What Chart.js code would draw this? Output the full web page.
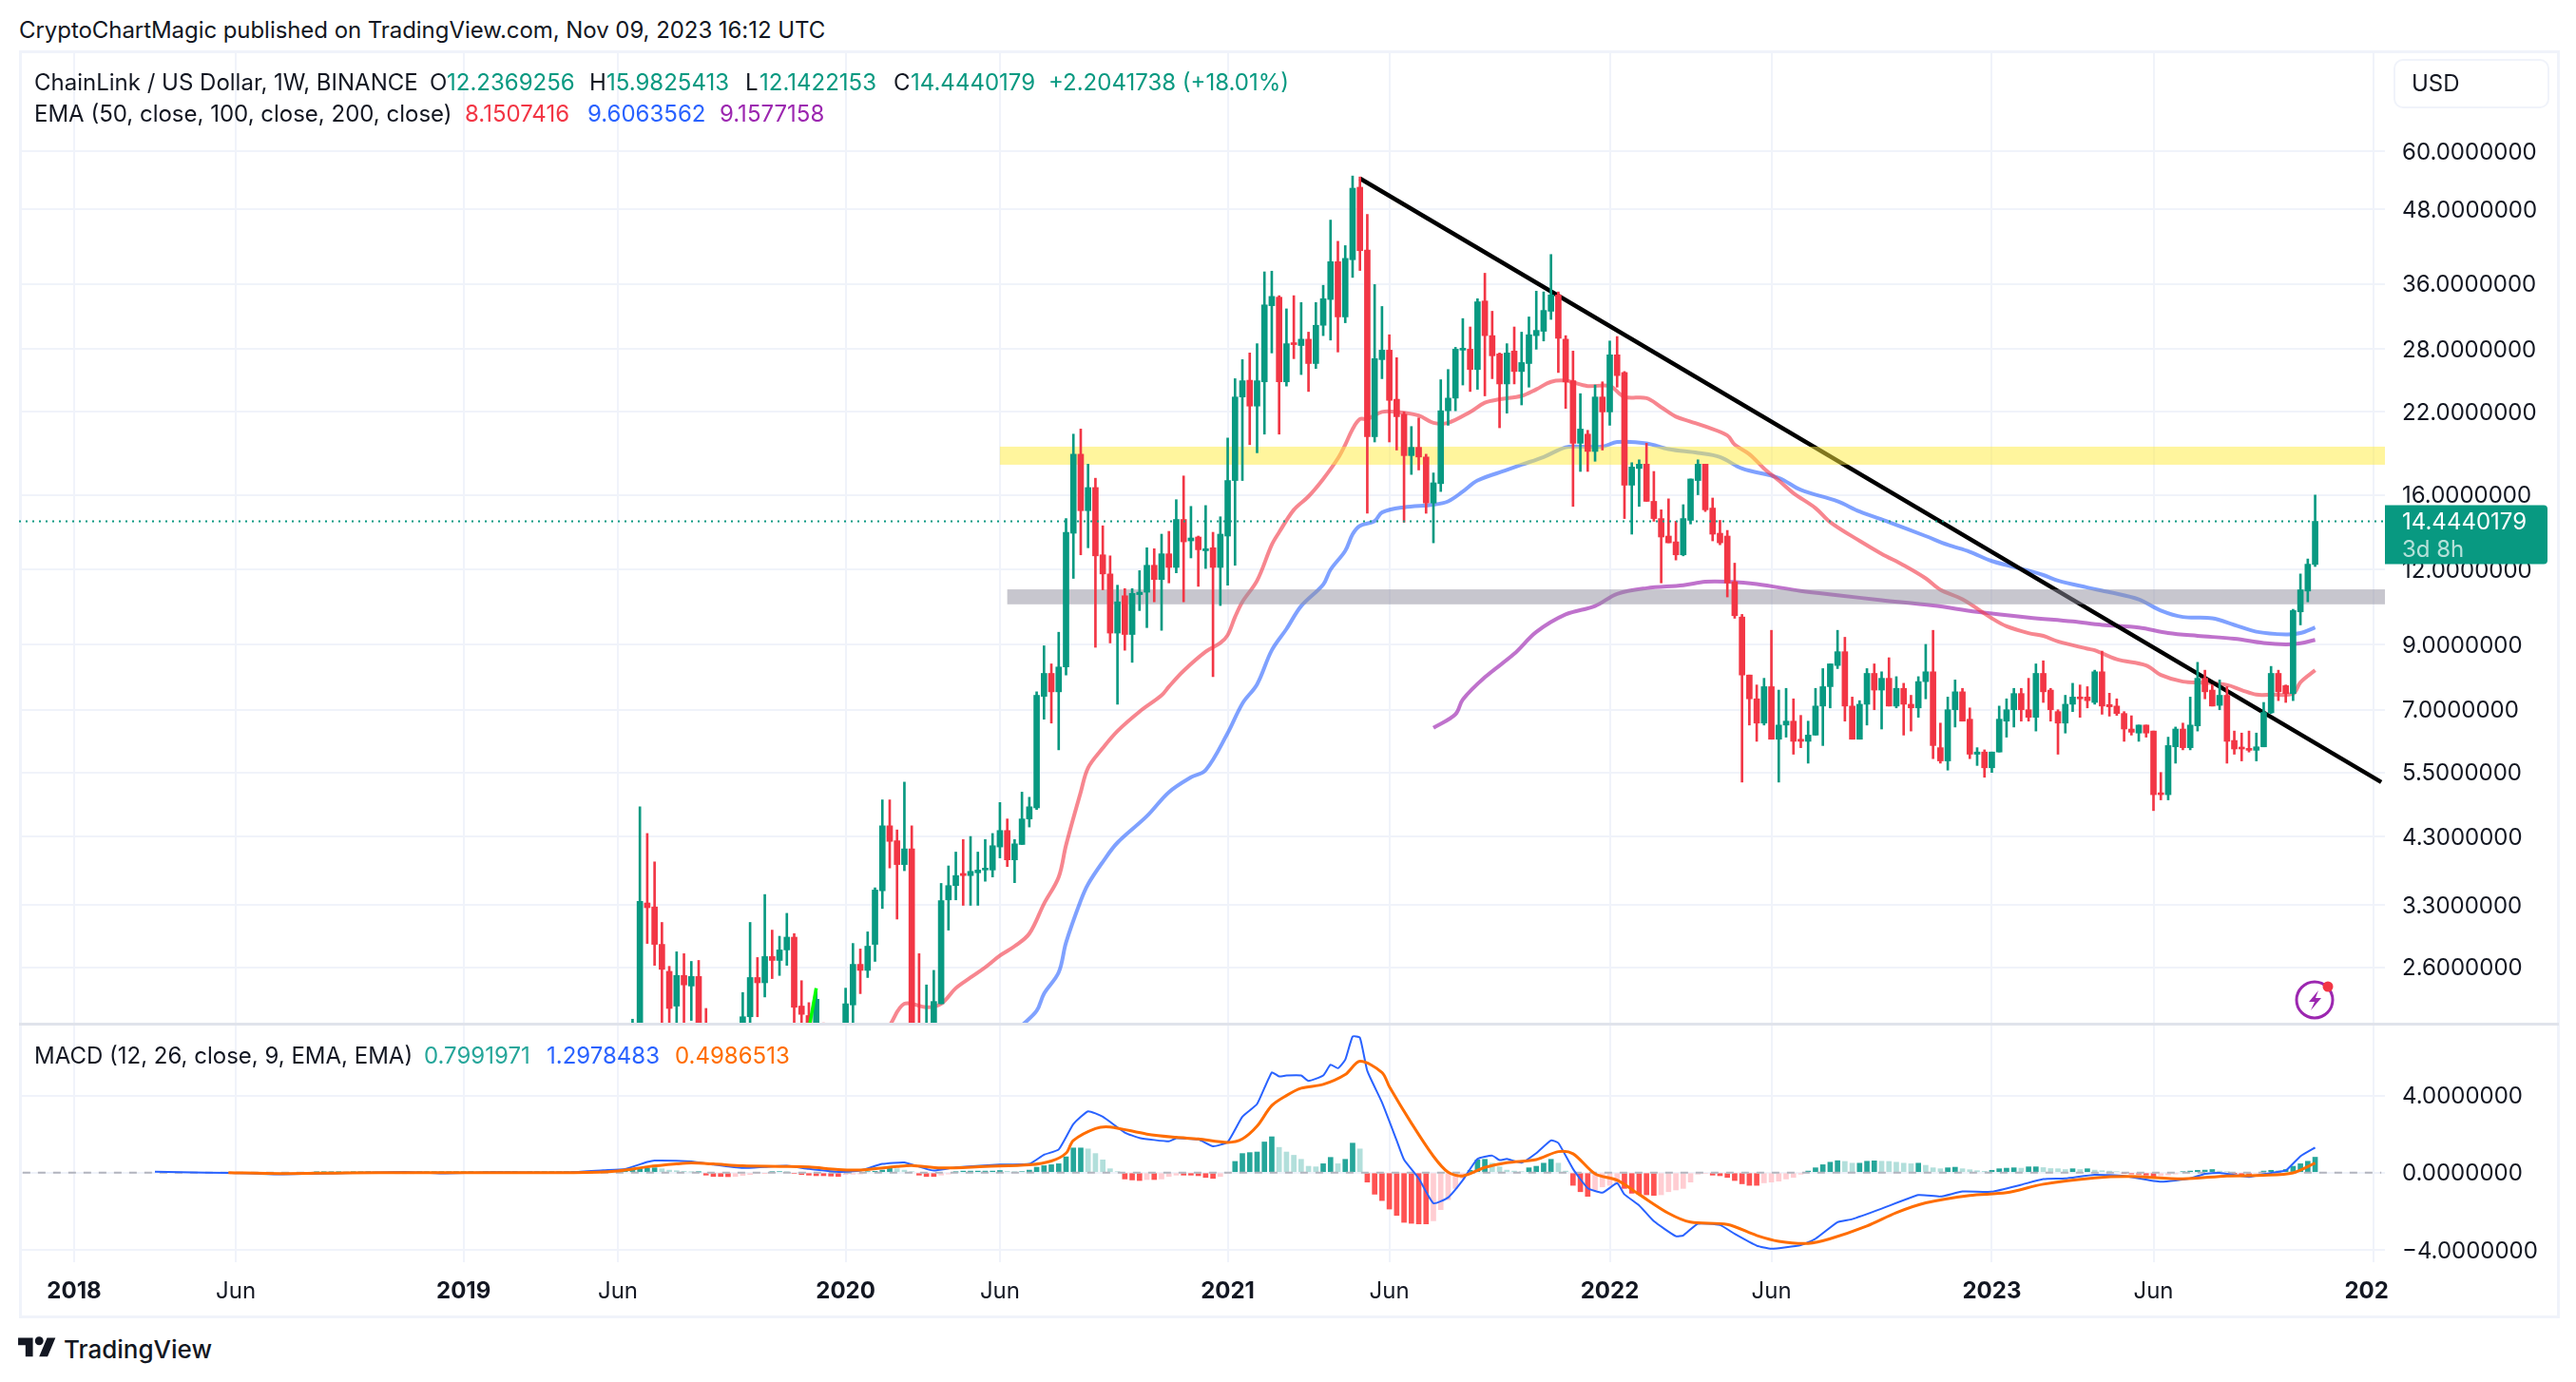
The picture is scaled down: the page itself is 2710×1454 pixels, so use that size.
<!DOCTYPE html>
<html>
<head>
<meta charset="utf-8">
<title>LINKUSD</title>
<script src="https://cdn.jsdelivr.net/npm/chart.js@4"></script>
<style>
body { margin:0; background:#fff; font-family:Inter,sans-serif; color:#131722; width:2710px; height:1454px; overflow:hidden; position:relative; }
canvas { position:absolute; }
#box { position:absolute; left:20px; top:53px; width:2667px; height:1328px; border:3px solid #f0f3fa; box-sizing:content-box; }
#sep { position:absolute; left:20px; top:1076px; width:2672px; height:3px; background:#e0e3eb; }
.t { position:absolute; font-size:24px; white-space:nowrap; line-height:30px; }
#usd { position:absolute; left:2518px; top:62px; width:164px; height:52px; border:2px solid #f0f3fa; border-radius:10px; box-sizing:border-box; font-size:24px; line-height:48px; padding-left:17px; }
</style>
</head>
<body>
<div id="box"></div>
<canvas id="priceChart" style="left:20px;top:55px"></canvas>
<canvas id="macdChart" style="left:20px;top:1078px"></canvas>
<div id="sep"></div>
<div class="t" style="left:20px;top:17px;letter-spacing:-0.06px">CryptoChartMagic published on TradingView.com, Nov 09, 2023 16:12 UTC</div>
<div class="t" style="left:36px;top:72px">ChainLink / US Dollar, 1W, BINANCE</div>
<div class="t" style="left:452px;top:72px">O</div>
<div class="t" style="left:470px;top:72px;color:#089981">12.2369256</div>
<div class="t" style="left:620px;top:72px">H</div>
<div class="t" style="left:638px;top:72px;color:#089981">15.9825413</div>
<div class="t" style="left:784px;top:72px">L</div>
<div class="t" style="left:799px;top:72px;color:#089981">12.1422153</div>
<div class="t" style="left:940px;top:72px">C</div>
<div class="t" style="left:958px;top:72px;color:#089981">14.4440179</div>
<div class="t" style="left:1103px;top:72px;color:#089981">+2.2041738 (+18.01%)</div>
<div class="t" style="left:36px;top:105px">EMA (50, close, 100, close, 200, close)</div>
<div class="t" style="left:489px;top:105px;color:#f23645">8.1507416</div>
<div class="t" style="left:618px;top:105px;color:#2962ff">9.6063562</div>
<div class="t" style="left:757px;top:105px;color:#9c27b0">9.1577158</div>
<div class="t" style="left:36px;top:1096px">MACD (12, 26, close, 9, EMA, EMA)</div>
<div class="t" style="left:446px;top:1096px;color:#26a69a">0.7991971</div>
<div class="t" style="left:575px;top:1096px;color:#2962ff">1.2978483</div>
<div class="t" style="left:710px;top:1096px;color:#ff6d00">0.4986513</div>
<div id="usd">USD</div>
<svg style="position:absolute;left:2412px;top:1028px" width="48" height="48" viewBox="0 0 48 48">
<circle cx="23" cy="24" r="19" fill="none" stroke="#9c27b0" stroke-width="3"/>
<path d="M27 14 L17 26 H23 L19 35 L30 22 H24 Z" fill="#9c27b0"/>
<circle cx="37" cy="10" r="5.5" fill="#f23645"/>
</svg>
<svg style="position:absolute;left:19px;top:1403px" width="40" height="31" viewBox="0 0 36 28">
<path d="M14 22H7V11H0V4h14v18zM28 22h-8l7.5-18h8L28 22z" fill="#131722"/><circle cx="20" cy="7" r="4" fill="#131722"/>
</svg>
<div class="t" style="left:67px;top:1405px;font-size:26px;font-weight:500">TradingView</div>

<script>
// weekly bars, first week on the axis is 2017-11-13
const weekCount = 322
const firstCandle = 83
const lastPrice = 14.4440179
const priceTicks = [60,48,36,28,22,16,12,9,7,5.5,4.3,3.3,2.6]
const macdTicks = [4,0,-4]
// week index of each label on the time axis, 2024 is cut off by the price scale
const timeWeeks = [7,29,60,81,112,133,164,186,216,238,268,290,320]
const timeLabels = ['2018','Jun','2019','Jun','2020','Jun','2021','Jun','2022','Jun','2023','Jun','202']
const yearLabels = ['2018','2019','2020','2021','2022','2023','202']

// ten weeks per line, from week 83 to 312; null = hidden under the pane
const opens = [
2.0,1.9,3.33,3.28,2.84,2.56,2.24,2.52,2.42,2.51,
2.0,null,null,null,null,2.0,2.15,2.5,2.45,2.71,
2.67,2.78,2.92,2.24,2.16,2.05,2.0,null,null,2.05,
2.25,2.63,2.57,2.84,3.49,4.48,4.23,3.86,4.1,2.04,
1.95,2.03,2.26,3.37,3.56,3.73,3.7,3.74,3.78,3.78,
4.13,4.4,3.93,4.17,4.6,4.8,7.37,8.05,7.5,8.25,
13.8,18.7,15.05,16.45,12.7,11.8,9.4,10.85,9.35,10.9,
11.0,12.2,11.55,12.75,12.1,14.55,13.4,13.6,12.9,13.05,
12.1,13.65,16.9,23.3,24.85,22.5,24.7,33.1,34.2,24.7,
28.6,28.4,29.1,26.5,30.7,33.9,39.2,31.7,39.5,52.2,
41,20,26.9,27.9,23.1,21.8,18.6,19.2,18.5,15.5,
16.7,22.1,23.2,27.9,28,25.9,33.7,29.5,27.5,24.5,
27.8,25.7,26.5,29.5,30,32.4,34.5,29.1,24.8,19.5,
20.2,18.9,23.3,22,27.4,25.6,16.6,17.7,18.0,15.6,
14.6,13.65,13.35,12.7,14.5,16.9,18,15.2,13.8,13.65,
11.45,10,8,7.3,6.65,7.65,6.25,6.6,6.7,6.25,
6.2,6.35,7.1,7.65,8.3,8.75,7.1,6.25,7.15,8.05,
7.55,7.9,7.1,7.6,7.15,7.05,7.8,8.1,6.05,5.75,
7,7.5,6.75,5.9,5.95,5.6,5.95,6.7,7,7.45,
7,6.8,8.05,7.55,6.95,6.65,7.15,7.35,7.35,7.2,
8.1,7.14,7.1,6.9,6.5,6.4,6.6,6.45,5.08,5.05,
6.07,6.5,6.05,6.58,7.9,7.55,7.12,7.4,6.22,6.03,
6.03,5.99,6.07,6.92,8.05,7.68,7.45,10.2,11.05,12.2369256
]
const highs = [
2.13,4.82,4.35,3.9,3.09,2.61,2.76,2.74,2.66,2.67,
2.22,null,null,null,null,2.36,3.09,2.7,3.44,3.0,
2.93,3.2,2.96,2.47,2.27,2.38,2.1,null,null,2.4,
2.85,2.79,2.98,3.53,4.95,4.95,4.41,5.3,4.48,2.74,
2.43,2.57,3.59,3.84,4.05,4.25,4.3,4.05,4.25,4.35,
4.9,4.6,4.25,5.1,5.0,7.5,8.95,8.35,9.43,14.6,
20.2,20.6,18,17.05,14.2,12.65,11.3,11.15,11.15,11.95,
13.05,13,13.75,13.9,15.7,17.2,15.3,13.65,15.35,13.85,
14.7,19.9,25,26.9,27.6,28.6,37.7,37.8,34.4,32.7,
34.4,33.5,29.9,33.5,35.8,46,42.4,41.7,54.5,54.3,
47,35.9,33,29.6,27.1,22,20.8,21.5,18.7,17.4,
24.9,25.9,28.2,31.5,30.5,34,37.5,32.4,27.6,28.6,
30.5,29.9,31.7,35,34.9,40.3,34.9,29.5,27.8,23.6,
20.5,24.4,24.7,28.9,29.4,25.7,18.1,18.3,19.5,17.5,
15.1,15.75,14.45,15.4,17,18.3,18,15.8,14.5,13.95,
12.3,10.1,8,7.7,7.9,9.5,7.55,7.6,7.3,6.85,
6.7,7.6,8.2,8.35,9.5,9.25,7.35,7.25,8.2,8.35,
8.1,8.55,7.95,7.75,7.4,7.95,9,9.5,6.65,7.35,
7.85,7.6,7.05,6.05,6,5.95,7.1,7.3,7.6,7.6,
7.9,8.35,8.45,7.6,7,7.4,7.75,7.7,7.65,8.15,
8.77,7.46,7.3,6.95,6.84,6.6,6.6,6.45,5.5,6.3,
6.55,6.65,7.35,8.4,8.15,7.7,7.85,7.65,6.45,6.4,
6.45,6.4,7.2,8.27,8.15,7.7,10.3,11.8,12.5,15.9825413
]
const lows = [
1.95,1.85,2.85,2.62,2.0,1.9,2.0,2.0,2.12,1.9,
1.8,null,null,null,null,1.9,2.1,2.15,2.32,2.49,
2.52,2.62,2.1,2.1,1.95,1.95,1.9,null,null,1.95,
2.1,2.35,2.5,2.66,3.26,3.81,3.13,3.77,1.8,1.85,
1.9,1.95,2.26,3.0,3.37,3.3,3.3,3.3,3.62,3.68,
3.96,3.83,3.6,4.17,4.46,4.77,6.75,6.65,6.0,8.0,
11.6,12.7,13.05,8.9,11.1,9.05,7.15,8.8,8.4,10.25,
9.6,10.6,9.5,11.4,11.85,10.6,12.55,11.25,12.05,7.95,
10.45,11.3,12.2,16.9,19.4,18.8,20.2,27.6,20.2,24.3,
27,25.4,23.8,26,29.5,29,27.7,31,36.9,37.9,
14.9,19.6,25,19.6,19,14.4,17.3,17.6,14.9,13.3,
16.2,20.9,22.1,24.4,23.8,24,23.4,25,20.7,21.9,
24.5,22.6,24.2,28,28.9,31.4,25.6,22.3,15.3,17.5,
17.5,18.2,19,20.9,24.2,14.6,13.75,15.3,15.6,14.45,
11.4,13.3,12.45,12.65,14.3,16,15,13.4,13.2,10.8,
9.95,5.3,6.6,6.2,6.6,6.25,5.3,6.3,5.9,6.05,
5.7,6.35,6.1,7.05,8.2,6.7,6.25,6.25,6.6,7,
6.5,7.1,7.05,6.35,6.45,6.8,7.3,5.8,5.7,5.55,
6.55,6.7,5.8,5.65,5.4,5.5,5.95,6.3,6.55,6.7,
6.7,6.45,7.2,6.7,5.9,6.4,6.95,6.8,7.05,7.15,
6.88,6.83,6.85,6.2,6.35,6.2,6.3,4.75,4.95,4.95,
5.7,6,6,6.45,7.3,7.1,7,5.7,5.9,5.75,
5.95,5.75,6.07,6.9,7.25,7.2,7.25,9.7,10.6,12.1422153
]
const closes = [
2.08,3.35,3.27,2.84,2.58,2.22,2.52,2.43,2.51,2.0,
1.9,null,null,null,null,2.15,2.5,2.45,2.71,2.67,
2.78,2.92,2.23,2.17,2.05,2.3,1.95,null,null,2.26,
2.63,2.57,2.82,3.5,4.48,4.22,3.86,4.1,2.0,1.95,
2.05,2.28,3.36,3.56,3.7,3.7,3.76,3.78,3.8,4.15,
4.4,3.93,4.18,4.6,4.82,7.4,8.05,7.5,8.25,13.85,
18.7,15.05,16.45,12.65,11.8,9.4,10.6,9.35,10.95,11.0,
12.2,11.55,12.75,12.1,14.55,13.35,13.55,12.95,13.0,12.1,
13.75,16.9,23.3,24.8,22.5,24.8,33.2,34.3,24.7,28.6,
28.5,29.1,26.5,30.7,34,39.2,31.7,39.7,52,40.9,
20,27,27.9,23,21.6,18.6,19.2,18.5,15.5,16.75,
22.1,23.2,28,28,25.9,33.6,29.5,27.3,24.5,27.6,
25.7,26.6,29.6,30.1,32.5,34.5,29.2,24.7,19.5,20.6,
18.9,23.3,22,27.4,25.3,16.6,17.8,18.0,15.6,14.6,
13.6,13.3,12.7,14.6,17,18,15.1,13.75,13.3,11.4,
10.05,8,7.3,6.65,7.65,6.25,6.6,6.7,6.2,6.2,
6.35,7.1,7.65,8.35,8.75,7.1,6.25,7.15,8.05,7.55,
7.9,7.1,7.6,7.15,7.05,7.8,8.1,6.1,5.75,7,
7.5,6.7,5.9,5.95,5.6,5.95,6.75,7,7.45,7,
6.8,8.05,7.5,7,6.65,7.15,7.35,7.3,7.25,8.1,
7.1,7.08,6.9,6.5,6.42,6.6,6.4,5.05,5.05,6.1,
6.5,6.05,6.6,7.9,7.5,7.1,7.4,6.2,6.02,6.02,
5.99,6.07,6.93,8.05,7.5,7.45,10.25,11.1,12.25,14.4440179
]

// sampled EMA readings: week index, then value
const ema50Weeks = [118,120,123,125,127,129,131,133,135,137,139,141,142,144,145,147,149,152,155,156,158,161,163,164,165,166,168,170,171,173,175,177,179,180,181,182,183,185,187,190,192,194,197,199,201,204,206,208,210,213,216,218,221,223,225,227,229,232,233,235,237,239,241,244,246,250,253,256,259,261,264,268,270,273,275,277,281,282,285,289,291,294,297,300,302,304,306,309,310,312]
const ema50 = [2.08,2.26,2.23,2.26,2.4,2.5,2.6,2.72,2.82,2.96,3.32,3.68,4.16,5.1,5.6,6.04,6.45,6.95,7.4,7.65,8.13,8.75,9.05,9.33,10,10.6,11.5,13.2,13.85,15.1,15.9,17,18.4,19.4,20.6,21.4,21.4,22,22,21.7,21.1,21.1,22,22.8,23.1,23.4,24,24.7,24.8,24.3,24.3,23.3,23.2,22.4,21.6,21.2,20.8,20.1,19.4,18.7,17.7,16.9,16.1,15.2,14.4,13.4,12.75,12.2,11.6,11.1,10.7,9.95,9.65,9.4,9.3,9.1,8.85,8.8,8.5,8.3,8,7.8,7.77,7.7,7.55,7.42,7.42,7.45,7.78,8.1507416]
const ema100Weeks = [136,138,139,141,142,144,145,147,149,153,156,159,161,164,166,168,170,172,174,177,178,180,181,182,184,185,188,192,194,196,198,202,204,207,210,212,215,217,221,224,228,231,234,239,242,247,250,254,259,262,265,268,273,275,277,281,284,288,291,294,298,301,304,308,310,312]
const ema100 = [2.08,2.2,2.35,2.55,2.86,3.36,3.58,3.9,4.2,4.65,5.1,5.4,5.55,6.4,7.17,7.72,8.8,9.55,10.43,11.33,12,12.9,13.75,14.2,14.46,14.95,15.25,15.4,15.6,16.2,16.9,17.6,17.96,18.5,19.2,19.25,19.25,19.6,19.5,19.07,18.8,18.5,17.7,17.07,16.3,15.6,15,14.4,13.65,13.2,12.85,12.4,11.95,11.75,11.5,11.2,11,10.7,10.25,10,9.95,9.7,9.45,9.35,9.4,9.6063562]
const ema200Weeks = [192,195,196,199,203,206,210,214,217,221,226,229,232,236,242,247,253,260,266,273,279,283,288,292,296,301,305,308,310,312]
const ema200 = [6.53,6.88,7.28,7.93,8.68,9.44,10.1,10.43,10.93,11.17,11.3,11.45,11.45,11.35,11.05,10.87,10.67,10.45,10.2,9.98,9.83,9.7,9.6,9.4,9.3,9.2,9.05,9,9.04,9.1577158]

// drawings on the price pane
const trendWeeks = [182,321]
const trendValues = [54,5.3]
const stubWeeks = [107,108]
const stubValues = [2.05,2.4]
const yellowZone = {week:133, top:19.25, bottom:17.96}
const greyZone = {week:134, top:11.12, bottom:10.5}

// MACD pane, histogram starts at week 27, decades from week 33 on
const histStart = 27
const histogram = [
0,-0.01,-0.01,-0.02,-0.02,-0.02,
-0.03,-0.03,-0.02,-0.02,-0.01,-0.01,0,0.01,0.01,0.02,
0.02,0.01,0.01,0.02,0.02,0.01,0,0,-0.01,-0.01,
-0.01,0.01,0.01,0.01,0.01,0.01,0.02,0.02,0.02,0.01,
0.01,0.02,0.02,0.02,0.02,0.01,0.01,0.02,0.02,0.02,
0.02,0.02,0.02,0.02,0.03,0.03,0.04,0.05,0.06,0.08,
0.13,0.2,0.24,0.25,0.2,0.13,0.1,0.07,0.03,0.03,
-0.13,-0.2,-0.2,-0.21,-0.2,-0.15,-0.1,-0.05,-0.03,0.05,
0.05,0.03,-0.05,-0.1,-0.13,-0.16,-0.16,-0.18,-0.2,-0.1,
-0.08,-0.07,0.05,0.07,0.13,0.23,0.2,0.13,0.05,-0.13,
-0.2,-0.2,-0.13,-0.07,0.03,0.08,0.08,0.08,0.08,0.08,
0.11,0.07,0.03,0.05,0.13,0.28,0.36,0.41,0.46,0.82,
1.28,1.28,1.23,0.99,0.66,0.2,0.05,-0.33,-0.38,-0.41,
-0.36,-0.36,-0.33,-0.2,-0.13,-0.13,-0.13,-0.16,-0.25,-0.3,
-0.2,-0.05,0.58,0.99,1.04,1.07,1.59,1.86,1.31,1.07,
0.9,0.69,0.33,0.3,0.46,0.79,0.46,0.69,1.53,1.23,
-0.49,-1.12,-1.45,-1.89,-2.22,-2.58,-2.63,-2.66,-2.66,-2.5,
-1.92,-1.4,-0.82,-0.3,0.12,0.66,0.69,0.49,0.3,0.13,
0.08,0.05,0.25,0.33,0.49,0.69,0.49,0.08,-0.66,-0.99,
-1.23,-0.9,-0.74,-0.66,-0.62,-0.82,-1.07,-1.12,-1.15,-1.18,
-1.15,-0.99,-0.9,-0.82,-0.49,-0.08,-0.05,-0.13,-0.16,-0.25,
-0.41,-0.58,-0.66,-0.66,-0.53,-0.49,-0.44,-0.33,-0.25,-0.08,
0.08,0.25,0.41,0.54,0.62,0.58,0.49,0.49,0.59,0.61,
0.59,0.58,0.54,0.49,0.46,0.49,0.38,0.25,0.2,0.25,
0.28,0.2,0.15,0.1,0.07,0.12,0.2,0.23,0.25,0.23,
0.3,0.3,0.26,0.21,0.2,0.16,0.2,0.16,0.2,0.13,
0.1,0.08,0.05,-0.03,-0.07,-0.08,-0.13,-0.2,-0.16,-0.13,
-0.07,0.05,0.08,0.12,0.13,0.16,0.08,0.05,-0.03,-0.1,
-0.1,-0.05,0.08,0.12,0.1,0.16,0.33,0.46,0.59,0.7991971
]
const macdWeeks = [18,25,31,35,39,45,52,57,64,71,75,79,82,85,86,91,94,98,101,104,107,111,114,117,120,123,124,127,133,137,139,141,143,145,147,150,152,156,157,160,162,164,166,168,170,171,172,174,175,177,178,179,180,181,182,183,185,187,188,190,192,194,196,198,200,201,202,204,206,208,209,211,213,215,217,218,220,222,225,226,228,231,233,236,238,242,244,247,249,253,258,261,264,268,272,275,278,282,286,291,295,297,299,303,306,308,310,312]
const macdLine = [0.05,0,-0.04,-0.09,-0.06,-0.02,0.04,-0.04,0.02,0,0.02,0.12,0.19,0.55,0.63,0.58,0.42,0.24,0.3,0.35,0.19,0.04,0.11,0.45,0.53,0.19,0.11,0.27,0.42,0.45,0.93,1.2,2.52,3.18,2.9,2.08,1.8,1.62,1.78,1.72,1.37,1.59,2.9,3.56,5.2,4.99,5.04,5.04,4.76,5.04,5.6,5.42,5.86,7.06,7,5.28,3.64,1.67,0.68,-0.3,-1.59,-1.29,-0.39,0.71,0.88,0.65,0.71,0.52,1.01,1.67,1.54,0.19,-0.8,-1.04,-0.55,-1.13,-1.7,-2.52,-3.3,-3.26,-2.65,-2.72,-3.18,-3.79,-3.95,-3.76,-3.43,-2.57,-2.41,-1.87,-1.16,-1.24,-0.98,-0.99,-0.63,-0.34,-0.3,-0.11,-0.17,-0.47,-0.3,-0.06,-0.01,-0.22,-0.01,0.11,0.85,1.2978483]
const signalWeeks = [28,35,44,53,64,75,81,85,89,91,94,98,103,107,111,114,119,121,125,131,137,140,142,143,146,148,153,157,160,164,166,168,170,172,174,177,180,182,185,186,189,192,194,196,199,202,206,209,211,214,217,220,224,227,232,236,239,243,246,251,255,259,265,270,275,282,287,294,300,305,309,312]
const signalLine = [0,-0.05,-0.01,0,0,0,0.09,0.3,0.45,0.5,0.45,0.35,0.32,0.29,0.16,0.14,0.32,0.37,0.24,0.32,0.4,0.6,1.01,1.67,2.29,2.37,2,1.83,1.75,1.57,1.75,2.41,3.48,4,4.38,4.58,5.09,5.78,5.2,4.46,2.57,0.85,0.02,-0.17,0.27,0.52,0.68,1.09,0.98,-0.06,-0.39,-1.13,-2.11,-2.57,-2.69,-3.26,-3.56,-3.67,-3.43,-2.77,-2.08,-1.57,-1.18,-1.04,-0.6,-0.27,-0.2,-0.32,-0.17,-0.14,-0.01,0.4986513]
const zeroLine = [0,0]

const fontName = 'Inter, sans-serif'
const textColor = '#131722'
const gridColor = '#f0f3fa'
const upColor = '#089981'
const downColor = '#f23645'
const axisWidth = 183

const weeks = []
const firstWeek = new Date(Date.UTC(2017,10,13))
for (let i = 0; i < weekCount; i++) {
    weeks.push(new Date(firstWeek.getTime() + i*7*86400000).toISOString().slice(0,10))
}

function points(w, v) {
    return w.map((k,i) => ({x:weeks[k], y:v[i]}))
}
// candles start at firstCandle, pad the front so they sit on the right week
function pad(list) {
    return new Array(firstCandle).fill(null).concat(list)
}
const bodies = pad(opens.map((o,i) => o === null ? null : [o, closes[i]]))
const wicks = pad(lows.map((l,i) => l === null ? null : [l, highs[i]]))
const candleColor = pad(opens.map((o,i) => closes[i] >= o ? upColor : downColor))

const histData = new Array(histStart).fill(null).concat(histogram)
function histColor(i) {
    const h = histData[i], p = histData[i-1]
    if (h === null || h === undefined) return 'transparent'
    if (h >= 0) return (p === null || h >= p) ? '#26a69a' : '#b2dfdb'
    return (p === null || h <= p) ? '#ff5252' : '#ffcdd2'
}

// no label padding, both charts have to line up with the picture exactly
function noPadding(s) {
    s.paddingLeft = 0
    s.paddingRight = 0
    s.paddingTop = 0
    s.paddingBottom = 0
}

function xAxis(showLabels) {
    return {
        type:'category',
        offset:true,
        border:{display:false},
        afterFit:s => { noPadding(s); s.height = showLabels ? 55 : 0 },
        grid:{
            drawTicks:false,
            offset:false,
            color:ctx => timeWeeks.includes(ctx.index) ? gridColor : 'transparent',
            lineWidth:2
        },
        ticks:{
            display:showLabels,
            autoSkip:false,
            maxRotation:0,
            padding:16,
            color:textColor,
            font:ctx => ({family:fontName, size:24, weight: yearLabels.includes(ctx.tick && ctx.tick.label) ? '700' : '400'}),
            callback:function(v, i) {
                const n = timeWeeks.indexOf(i === 319 ? 320 : (i === 320 ? -1 : i))
                return n < 0 ? '' : timeLabels[n]
            }
        }
    }
}

function yAxisFit(s) {
    noPadding(s)
    s.width = axisWidth
}

// the highlighted price bands sit under the candles but over the averages
const zonePlugin = {
    id:'zones',
    beforeDatasetDraw(chart, args) {
        if (args.index !== 0) return
        const {ctx, chartArea, scales} = chart
        ctx.save()
        for (const z of [[yellowZone,'rgba(255,235,59,0.5)'],[greyZone,'rgba(144,142,158,0.5)']]) {
            const x = scales.x.getPixelForValue(z[0].week)
            const y1 = scales.y.getPixelForValue(z[0].top)
            const y2 = scales.y.getPixelForValue(z[0].bottom)
            ctx.fillStyle = z[1]
            ctx.fillRect(x, y1, chartArea.right-x, y2-y1)
        }
        ctx.restore()
    }
}

// last price: dotted line over the pane and the green tag on the axis
const pricePlugin = {
    id:'lastPrice',
    afterDraw(chart) {
        const {ctx, chartArea, scales} = chart
        const y = scales.y.getPixelForValue(lastPrice)
        ctx.save()
        ctx.strokeStyle = upColor
        ctx.lineWidth = 2
        ctx.setLineDash([2,5])
        ctx.beginPath()
        ctx.moveTo(chartArea.left, y)
        ctx.lineTo(chartArea.right, y)
        ctx.stroke()
        ctx.setLineDash([])
        ctx.fillStyle = upColor
        ctx.beginPath()
        ctx.roundRect(chartArea.right, y-17, 171, 62, [0,4,4,0])
        ctx.fill()
        ctx.fillStyle = '#fff'
        ctx.font = '24px '+fontName
        ctx.textBaseline = 'middle'
        ctx.fillText(lastPrice.toFixed(7), chartArea.right+18, y+1)
        ctx.fillStyle = 'rgba(255,255,255,0.7)'
        ctx.fillText('3d 8h', chartArea.right+18, y+30)
        ctx.restore()
    }
}

const priceCanvas = document.getElementById('priceChart')
priceCanvas.width = 2672
priceCanvas.height = 1023
new Chart(priceCanvas, {
    data:{
        labels:weeks,
        datasets:[
            {type:'bar', data:wicks, barThickness:2, grouped:false, backgroundColor:candleColor, minBarLength:1, order:2},
            {type:'bar', data:bodies, barThickness:6, grouped:false, backgroundColor:candleColor, minBarLength:2, order:1},
            {type:'line', data:points(stubWeeks,stubValues), borderColor:'#00ff00', borderWidth:3.5, pointRadius:0, order:0},
            {type:'line', data:points(ema50Weeks,ema50), borderColor:'rgba(242,54,69,0.6)', borderWidth:4, pointRadius:0, tension:0.35, order:5},
            {type:'line', data:points(ema100Weeks,ema100), borderColor:'rgba(41,98,255,0.6)', borderWidth:4, pointRadius:0, tension:0.35, order:6},
            {type:'line', data:points(ema200Weeks,ema200), borderColor:'rgba(156,39,176,0.65)', borderWidth:4, pointRadius:0, tension:0.35, order:7},
            {type:'line', data:points(trendWeeks,trendValues), borderColor:'#000', borderWidth:4.5, pointRadius:0, order:4}
        ]
    },
    options:{
        responsive:false,
        animation:false,
        layout:{padding:0},
        plugins:{legend:{display:false}, tooltip:{enabled:false}},
        scales:{
            x:xAxis(false),
            y:{
                type:'logarithmic',
                position:'right',
                min:2.086,
                max:87.7,
                afterFit:yAxisFit,
                afterBuildTicks:s => { s.ticks = priceTicks.map(v => ({value:v})) },
                border:{display:false},
                grid:{color:gridColor, lineWidth:2, drawTicks:false},
                ticks:{color:textColor, padding:18, labelOffset:1.5, font:{family:fontName, size:24}, callback:v => Number(v).toFixed(7)}
            }
        }
    },
    plugins:[zonePlugin, pricePlugin]
})

const macdCanvas = document.getElementById('macdChart')
macdCanvas.width = 2672
macdCanvas.height = 305
new Chart(macdCanvas, {
    data:{
        labels:weeks,
        datasets:[
            {type:'bar', data:histData, barThickness:5, backgroundColor:c => histColor(c.dataIndex), order:3},
            {type:'line', data:points([0,321],zeroLine), borderColor:'#b2b5be', borderWidth:2, borderDash:[8,8], pointRadius:0, order:2},
            {type:'line', data:points(macdWeeks,macdLine), borderColor:'#2962ff', borderWidth:2, pointRadius:0, tension:0.15, order:1},
            {type:'line', data:points(signalWeeks,signalLine), borderColor:'#ff6d00', borderWidth:3, pointRadius:0, tension:0.3, order:0}
        ]
    },
    options:{
        responsive:false,
        animation:false,
        layout:{padding:0},
        plugins:{legend:{display:false}, tooltip:{enabled:false}},
        scales:{
            x:xAxis(true),
            y:{
                position:'right',
                min:-4.65,
                max:7.68,
                afterFit:yAxisFit,
                afterBuildTicks:s => { s.ticks = macdTicks.map(v => ({value:v})) },
                border:{display:false},
                grid:{color:gridColor, lineWidth:2, drawTicks:false},
                ticks:{color:textColor, padding:18, labelOffset:1.5, font:{family:fontName, size:24}, callback:v => v === 0 ? '0.0000000' : (v < 0 ? '\u2212' : '')+Math.abs(v).toFixed(7)}
            }
        }
    }
})
</script>
</body>
</html>
